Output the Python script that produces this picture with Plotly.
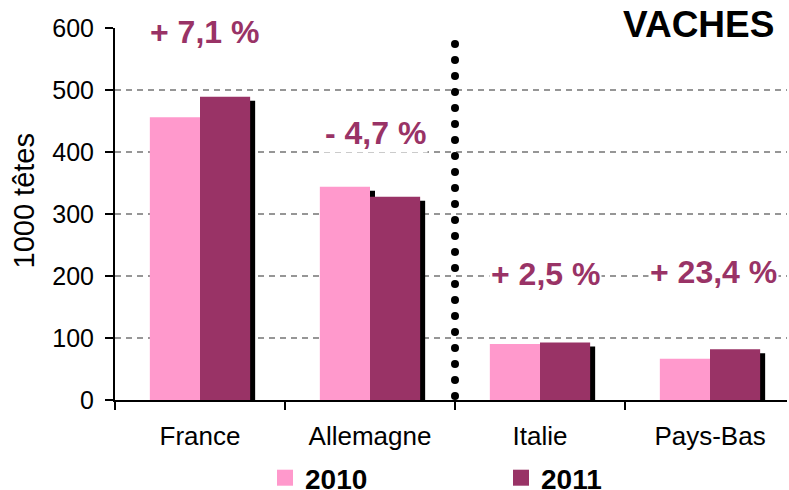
import numpy as np
import plotly.graph_objects as go

# ---------------- data ----------------
categories = ["France", "Allemagne", "Italie", "Pays-Bas"]
series_names = ["2010", "2011"]
values_2010 = [456, 344, 90.5, 66.5]
values_2011 = [489, 328, 92.8, 82]
variation_labels = ["+ 7,1 %", "- 4,7 %", "+ 2,5 %", "+ 23,4 %"]
y_tick_values = [0, 100, 200, 300, 400, 500, 600]
y_title = "1000 têtes"
chart_title = "VACHES"

# ---------------- style ----------------
PINK = "#FF99CC"
PLUM = "#993366"
FONT = "Liberation Sans, Arial, sans-serif"
W, H = 789, 490
M_L, M_R, M_T, M_B = 115, 2, 28, 90
plot_w = W - M_L - M_R
plot_h = H - M_T - M_B
cat_px = 170.0
x_range = [-0.5, -0.5 + plot_w / cat_px]
y_range = [0, 600]
units_per_px = (y_range[1] - y_range[0]) / plot_h
shadow_dx = 5 / cat_px          # shadow shift right (category units)
shadow_dy = 4 * units_per_px    # shadow shift down (value units)

fig = go.Figure()

# shadows (main x axis shifted so bars appear 5px to the right)
for vals in (values_2010, values_2011):
    fig.add_trace(go.Bar(
        x=categories, y=vals, base=-shadow_dy,
        marker=dict(color="black", line=dict(width=0)),
        xaxis="x", yaxis="y", showlegend=False, hoverinfo="skip",
        cliponaxis=False,
    ))

# real bars
for name, vals, col in ((series_names[0], values_2010, PINK),
                        (series_names[1], values_2011, PLUM)):
    fig.add_trace(go.Bar(
        x=categories, y=vals, name=name,
        marker=dict(color=col, line=dict(width=0)),
        xaxis="x2", yaxis="y", showlegend=False,
    ))

# dotted separator between Allemagne and Italie
dot_y = 6.5 + np.arange(23) * (16 * units_per_px)
fig.add_trace(go.Scatter(
    x=[1.5] * len(dot_y), y=dot_y, mode="markers",
    marker=dict(color="black", size=8, symbol="circle"),
    xaxis="x3", yaxis="y", showlegend=False, hoverinfo="skip",
))

# legend entries
for name, col in ((series_names[0], PINK), (series_names[1], PLUM)):
    fig.add_trace(go.Scatter(
        x=[None], y=[None], mode="markers", name=name,
        marker=dict(color=col, size=16, symbol="square"),
        xaxis="x3", yaxis="y", showlegend=True,
    ))

# variation labels
var_x = [0.025, 1.035, 2.03, 3.02]
var_y = [594, 431, 203, 206]
for lab, xx, yy in zip(variation_labels, var_x, var_y):
    fig.add_annotation(
        x=xx, y=yy, xref="x3", yref="y", text=lab, showarrow=False,
        font=dict(family=FONT, size=32, color=PLUM, weight="bold"),
        bgcolor="white", xanchor="center", yanchor="middle",
    )

fig.add_annotation(
    x=(698 - M_L) / plot_w, y=(M_T + plot_h - 24.5) / plot_h,
    xref="paper", yref="paper", text=chart_title, showarrow=False,
    font=dict(family=FONT, size=37, color="black", weight="bold"),
    bgcolor="white", xanchor="center", yanchor="middle",
)

fig.add_annotation(
    x=(23.5 - M_L) / plot_w, y=(M_T + plot_h - 201) / plot_h,
    xref="paper", yref="paper", text=y_title, showarrow=False,
    textangle=-90, font=dict(family=FONT, size=29, color="black"),
    xanchor="center", yanchor="middle",
)

fig.update_layout(
    width=W, height=H,
    margin=dict(l=M_L, r=M_R, t=M_T, b=M_B, pad=0, autoexpand=False),
    paper_bgcolor="white", plot_bgcolor="white",
    barmode="group", bargap=0.41, bargroupgap=0,
    font=dict(family=FONT, size=25, color="black"),
    xaxis=dict(
        type="category", categoryorder="array", categoryarray=categories,
        range=[x_range[0] - shadow_dx, x_range[1] - shadow_dx],
        visible=False, anchor="y", fixedrange=True, automargin=False,
    ),
    xaxis2=dict(
        type="category", categoryorder="array", categoryarray=categories,
        range=x_range, overlaying="x", anchor="y", side="bottom",
        showline=True, linecolor="black", linewidth=1.5,
        ticks="outside", tickson="boundaries", ticklen=8, tickwidth=1.5,
        tickcolor="black", showgrid=False, zeroline=False,
        tickfont=dict(family=FONT, size=26, color="black"),
        ticklabelstandoff=12, automargin=False,
    ),
    xaxis3=dict(
        type="linear", range=x_range, overlaying="x", anchor="y",
        visible=False, automargin=False,
    ),
    yaxis=dict(
        range=y_range, tickvals=y_tick_values,
        showline=True, linecolor="black", linewidth=2,
        ticks="outside", ticklen=8, tickwidth=2, tickcolor="black",
        showgrid=True, gridcolor="#969696", gridwidth=2, griddash="6px,5px",
        zeroline=False,
        tickfont=dict(family=FONT, size=25, color="black"),
        ticklabelstandoff=6, automargin=False,
    ),
    legend=dict(
        orientation="h", xref="container", yref="container",
        x=265 / W, xanchor="left",
        y=(H - 478) / H, yanchor="middle",
        font=dict(family=FONT, size=28, color="black", weight="bold"),
        entrywidth=191, entrywidthmode="pixels",
        bgcolor="rgba(0,0,0,0)", itemclick=False,
    ),
    showlegend=True,
)

fig.write_html("out.html", config={"displayModeBar": False},
               post_script="document.body.style.margin='0';")
